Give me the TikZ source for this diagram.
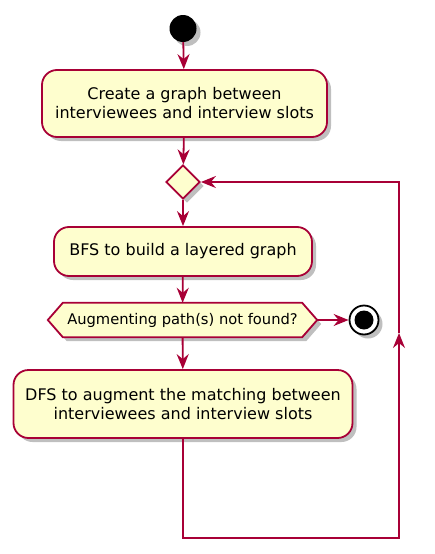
\documentclass[tikz,border=0pt]{standalone}
\usepackage{fontspec}
\setmainfont{DejaVu Sans}
\usetikzlibrary{shapes.geometric,shadows,arrows.meta}
\definecolor{umlline}{HTML}{A80036}
\definecolor{umlfill}{HTML}{FEFECE}
\tikzset{
  x=1pt,y=-1pt,
  shad/.style={drop shadow={shadow xshift=4pt,shadow yshift=-4pt,opacity=0.25,fill=black}},
  actbox/.style={draw=umlline,fill=umlfill,line width=1.8pt,rounded corners=15pt,
    align=center,inner sep=0pt,font=\fontsize{16}{19}\selectfont,shad},
  dec/.style={diamond,draw=umlline,fill=umlfill,line width=1.8pt,minimum width=34pt,
    minimum height=34pt,inner sep=0pt,aspect=1,shad},
  conn/.style={draw=umlline,line width=1.8pt,-{Stealth[length=15pt,width=12pt,inset=5pt]}},
}
\begin{document}
\begin{tikzpicture}
\useasboundingbox (0,0) rectangle (434,554);
% start
\node[circle,fill=black,minimum size=27pt,inner sep=0pt,shad] (start) at (183,28.5) {};
% box 1
\node[actbox,minimum width=285pt,minimum height=67pt] (box1) at (184.5,103.5)
  {Create a graph between\\interviewees and interview slots};
% diamond
\node[dec] (dia1) at (183,182) {};
% box 2
\node[actbox,minimum width=258pt,minimum height=49pt] (box2) at (183,251.5)
  {BFS to build a layered graph};
% hexagon
\node[minimum width=269pt,minimum height=34pt,inner sep=0pt] (hex) at (182.5,320) {};
\path[draw=umlline,fill=umlfill,line width=1.8pt,shad]
  (hex.west) -- ([xshift=15pt]hex.north west) -- ([xshift=-15pt]hex.north east)
  -- (hex.east) -- ([xshift=-15pt]hex.south east) -- ([xshift=15pt]hex.south west) -- cycle;
\node[font=\fontsize{14.7}{17}\selectfont] (hextext) at (hex.center) {Augmenting path(s) not found?};
% stop
\node[circle,draw=black,fill=white,line width=1.8pt,minimum size=29pt,inner sep=0pt,shad] (stop) at (364,320) {};
\node[circle,fill=black,minimum size=19pt,inner sep=0pt] (stopin) at (stop.center) {};
% box 3
\node[actbox,minimum width=339pt,minimum height=68pt] (box3) at (183,404)
  {DFS to augment the matching between\\interviewees and interview slots};
% connectors
\draw[conn] (start) -- (box1);
\draw[conn] (box1) -- (dia1);
\draw[conn] (dia1) -- (box2);
\draw[conn] (box2) -- (hex);
\draw[conn] (hex.east) -- (stop);
\draw[conn] (hex) -- (box3);
\coordinate (c2) at (399,538);
\coordinate (cm) at (399,333);
\coordinate (c3) at (399,182);
\draw[conn] (box3.south) |- (c2) -- (cm);
\draw[conn] (cm) -- (c3) -- (dia1.east);
\end{tikzpicture}
\end{document}
